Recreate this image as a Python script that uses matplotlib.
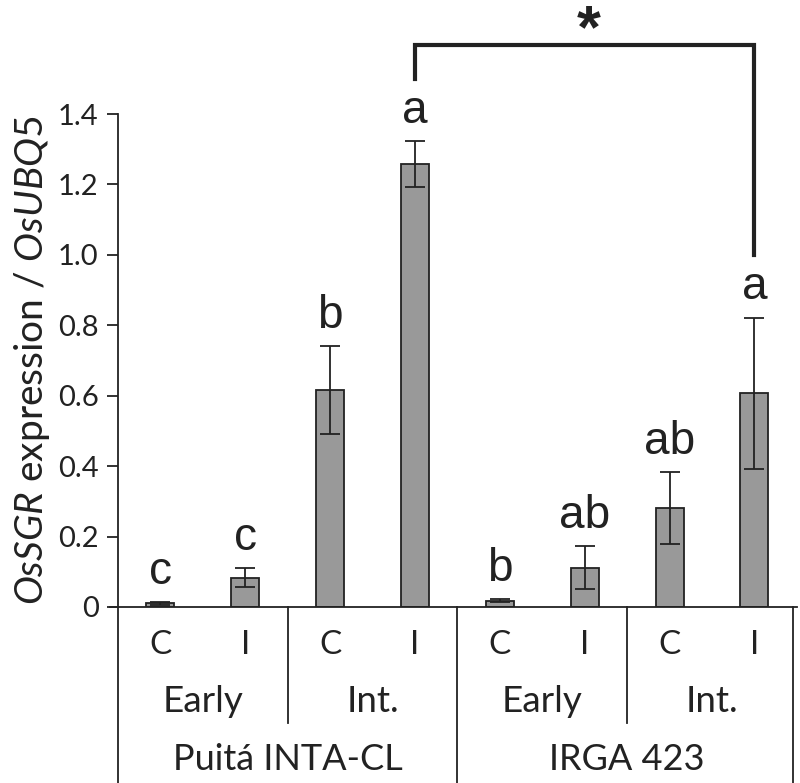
import matplotlib
matplotlib.use("Agg")
import matplotlib.pyplot as plt
import matplotlib.transforms as mtransforms

# expression values
treatments = ["C", "I", "C", "I", "C", "I", "C", "I"]
stages = ["Early", "Int.", "Early", "Int."]
cultivars = ["Puitá INTA-CL", "IRGA 423"]
values = [0.01, 0.083, 0.615, 1.258, 0.018, 0.112, 0.28, 0.607]
errors = [0.004, 0.027, 0.125, 0.065, 0.005, 0.06, 0.102, 0.215]
letters = ["c", "c", "b", "a", "b", "ab", "ab", "a"]
yticks = [0, 0.2, 0.4, 0.6, 0.8, 1.0, 1.2, 1.4]
ytick_labels = ["0", "0.2", "0.4", "0.6", "0.8", "1.0", "1.2", "1.4"]

plt.rcParams['font.family'] = ['Lato', 'DejaVu Sans']
plt.rcParams['mathtext.fontset'] = 'custom'
plt.rcParams['mathtext.rm'] = 'Lato'
plt.rcParams['mathtext.it'] = 'Lato:italic'

fig = plt.figure(figsize=(8, 7.83), dpi=100)
ax = fig.add_axes([0.1475, 0.2248, 0.8485, 0.6296])

x = list(range(len(values)))
ax.bar(x, values, width=0.33, color="#999999", edgecolor="#222222", linewidth=1.3,
       yerr=errors, capsize=7, error_kw=dict(elinewidth=1.3, capthick=1.3, ecolor="#222222"))

ax.set_xlim(-0.5, 7.5)
ax.set_ylim(0, 1.4)
ax.set_yticks(yticks)
ax.set_yticklabels(ytick_labels, fontsize=21, color="#222222")
ax.set_xticks([])
ax.tick_params(axis="y", direction="out", length=8, width=1.3, pad=6, colors="#222222")
for s in ["top", "right", "bottom"]:
    ax.spines[s].set_visible(False)
ax.spines["left"].set_linewidth(1.3)
ax.spines["left"].set_color("#222222")
ax.plot([-0.6, 7.5], [0, 0], color="#222222", lw=1.3, clip_on=False)

ax.set_ylabel(r"$\it{OsSGR}$ expression / $\it{OsUBQ5}$", fontsize=28, color="#222222", labelpad=4)

# significance letters
for xi, v, e, t in zip(x, values, errors, letters):
    ax.annotate(t, (xi, v + e), xytext=(0, 13), textcoords="offset points",
                ha="center", va="baseline", fontsize=33, family="Liberation Sans", color="#222222",
                annotation_clip=False)

# bracket between the two "I Int." bars
trans = mtransforms.blended_transform_factory(ax.transData, fig.transFigure)
y_top = 1 - 45 / 783
ax.plot([3, 3, 7, 7], [1 - 79 / 783, y_top, y_top, 1 - 255 / 783], transform=trans,
        color="#222222", lw=3, clip_on=False, solid_joinstyle="miter")
ax.text(5.05, 1 - 3 / 783, "*", transform=trans, ha="center", va="top",
        fontsize=44, fontweight="bold", family="Liberation Sans", color="#222222")

# category table below the axis
for xi, t in zip(x, treatments):
    ax.text(xi, 1 - 645 / 783, t, transform=trans, ha="center", va="center", fontsize=24, color="#222222")
for i, s in enumerate(stages):
    ax.text(2 * i + 0.5, 1 - 702 / 783, s, transform=trans, ha="center", va="center", fontsize=26.5, color="#222222")
for i, c in enumerate(cultivars):
    ax.text(4 * i + 1.5, 1 - 760 / 783, c, transform=trans, ha="center", va="center", fontsize=26, color="#222222")

y_axis = 1 - 607 / 783
for xd in [1.5, 5.5]:
    ax.plot([xd, xd], [y_axis, 1 - 723 / 783], transform=trans, color="#222222", lw=1.3, clip_on=False)
for xd in [-0.5, 3.5, 7.45]:
    ax.plot([xd, xd], [y_axis, 0], transform=trans, color="#222222", lw=1.3, clip_on=False)

fig.savefig("out.png", dpi=100)
